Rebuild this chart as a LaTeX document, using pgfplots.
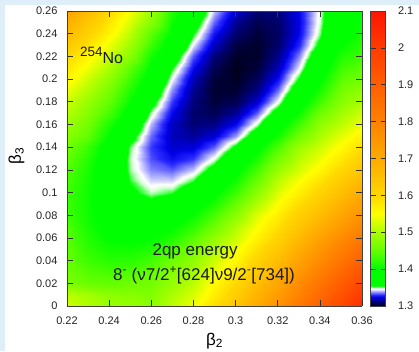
\documentclass[border=0pt]{standalone}
\usepackage{fontspec}
\setmainfont{Liberation Sans}
\usepackage{pgfplots}
\pgfplotsset{compat=1.18}
\pgfplotsset{every tick label/.append style={font=\fontsize{11}{13}\selectfont, text=black!85}}
\definecolor{bgblue}{RGB}{222,239,249}
\begin{document}
\begin{tikzpicture}
\fill[bgblue] (-67pt,-45pt) rectangle (352pt,306pt);
\fill[white] (-62pt,-45pt) rectangle (352pt,301pt);
\begin{axis}[
  anchor=south west,
  width=295pt, height=295pt, scale only axis,
  view={0}{90},
  scaled ticks=false, ztick=\empty,
  xmin=0.22, xmax=0.36, ymin=0, ymax=0.26,
  xtick={0.22,0.24,0.26,0.28,0.3,0.32,0.34,0.36},
  xticklabels={0.22,0.24,0.26,0.28,0.3,0.32,0.34,0.36},
  ytick={0,0.02,0.04,0.06,0.08,0.1,0.12,0.14,0.16,0.18,0.2,0.22,0.24,0.26},
  yticklabels={0,0.02,0.04,0.06,0.08,0.1,0.12,0.14,0.16,0.18,0.2,0.22,0.24,0.26},
  tick align=inside, major tick length=6pt,
  xtick pos=both, ytick pos=both,
  tick style={black!80, line width=0.6pt},
  axis line style={black!75, line width=0.8pt},
  xticklabel style={yshift=-7pt},
  yticklabel style={xshift=-6pt},
  xlabel={β\textsubscript{2}}, ylabel={β\textsubscript{3}},
  every axis x label/.style={at={(axis description cs:0.5,-0.118)}, anchor=center, font=\fontsize{17}{17}\selectfont},
  every axis y label/.style={at={(axis description cs:-0.171,0.51)}, anchor=center, rotate=90, font=\fontsize{17}{17}\selectfont},
  colormap={gp}{
    rgb255(0pt)=(0,0,25) rgb255(13pt)=(0,0,130) rgb255(24pt)=(0,0,230)
    rgb255(30pt)=(40,40,255) rgb255(40pt)=(170,170,255) rgb255(46pt)=(255,255,255)
    rgb255(49pt)=(215,255,215) rgb255(55pt)=(0,255,0) rgb255(100pt)=(0,255,0)
    rgb255(150pt)=(100,255,0) rgb255(200pt)=(170,255,0) rgb255(250pt)=(255,255,0)
    rgb255(300pt)=(255,215,0) rgb255(400pt)=(255,170,0) rgb255(500pt)=(255,130,0)
    rgb255(600pt)=(255,95,0) rgb255(700pt)=(255,60,0) rgb255(800pt)=(255,20,0)},
  point meta min=1.3, point meta max=2.1,
  colorbar,
  colorbar style={at={(parent axis.north east)}, anchor=north west, xshift=0pt, width=15pt,
     scaled ticks=false,
     ytick={1.3,1.4,1.5,1.6,1.7,1.8,1.9,2,2.1},
     yticklabels={1.3,1.4,1.5,1.6,1.7,1.8,1.9,2,2.1},
     tick align=inside, major tick length=5pt,
     ytick pos=both, yticklabel pos=right,
     tick style={black!80, line width=0.6pt},
     axis line style={black!75, line width=0.8pt},
     yticklabel style={xshift=9pt}},
  axis on top,
]
\addplot3[surf, shader=interp, mesh/cols=15] coordinates {
(0.22,0,1.52) (0.23,0,1.505) (0.24,0,1.49) (0.25,0,1.485) (0.26,0,1.48) (0.27,0,1.51) (0.28,0,1.54) (0.29,0,1.59) (0.30,0,1.64) (0.31,0,1.70) (0.32,0,1.76) (0.33,0,1.83) (0.34,0,1.90) (0.35,0,1.97) (0.36,0,2.04)
(0.22,0.01,1.51) (0.23,0.01,1.495) (0.24,0.01,1.48) (0.25,0.01,1.475) (0.26,0.01,1.47) (0.27,0.01,1.50) (0.28,0.01,1.525) (0.29,0.01,1.57) (0.30,0.01,1.62) (0.31,0.01,1.68) (0.32,0.01,1.735) (0.33,0.01,1.80) (0.34,0.01,1.87) (0.35,0.01,1.94) (0.36,0.01,2.005)
(0.22,0.02,1.467) (0.23,0.02,1.453) (0.24,0.02,1.449) (0.25,0.02,1.457) (0.26,0.02,1.46) (0.27,0.02,1.485) (0.28,0.02,1.51) (0.29,0.02,1.555) (0.30,0.02,1.60) (0.31,0.02,1.655) (0.32,0.02,1.71) (0.33,0.02,1.775) (0.34,0.02,1.84) (0.35,0.02,1.905) (0.36,0.02,1.97)
(0.22,0.03,1.458) (0.23,0.03,1.441) (0.24,0.03,1.434) (0.25,0.03,1.439) (0.26,0.03,1.45) (0.27,0.03,1.473) (0.28,0.03,1.495) (0.29,0.03,1.538) (0.30,0.03,1.58) (0.31,0.03,1.633) (0.32,0.03,1.685) (0.33,0.03,1.748) (0.34,0.03,1.81) (0.35,0.03,1.873) (0.36,0.03,1.935)
(0.22,0.04,1.451) (0.23,0.04,1.43) (0.24,0.04,1.42) (0.25,0.04,1.421) (0.26,0.04,1.433) (0.27,0.04,1.457) (0.28,0.04,1.48) (0.29,0.04,1.52) (0.30,0.04,1.56) (0.31,0.04,1.61) (0.32,0.04,1.66) (0.33,0.04,1.72) (0.34,0.04,1.78) (0.35,0.04,1.84) (0.36,0.04,1.90)
(0.22,0.05,1.447) (0.23,0.05,1.422) (0.24,0.05,1.409) (0.25,0.05,1.407) (0.26,0.05,1.415) (0.27,0.05,1.435) (0.28,0.05,1.465) (0.29,0.05,1.503) (0.30,0.05,1.54) (0.31,0.05,1.588) (0.32,0.05,1.635) (0.33,0.05,1.693) (0.34,0.05,1.75) (0.35,0.05,1.808) (0.36,0.05,1.865)
(0.22,0.06,1.443) (0.23,0.06,1.415) (0.24,0.06,1.399) (0.25,0.06,1.393) (0.26,0.06,1.399) (0.27,0.06,1.415) (0.28,0.06,1.443) (0.29,0.06,1.482) (0.30,0.06,1.52) (0.31,0.06,1.565) (0.32,0.06,1.61) (0.33,0.06,1.665) (0.34,0.06,1.72) (0.35,0.06,1.775) (0.36,0.06,1.83)
(0.22,0.07,1.44) (0.23,0.07,1.41) (0.24,0.07,1.39) (0.25,0.07,1.382) (0.26,0.07,1.384) (0.27,0.07,1.397) (0.28,0.07,1.422) (0.29,0.07,1.457) (0.30,0.07,1.504) (0.31,0.07,1.548) (0.32,0.07,1.59) (0.33,0.07,1.64) (0.34,0.07,1.69) (0.35,0.07,1.743) (0.36,0.07,1.795)
(0.22,0.08,1.43) (0.23,0.08,1.407) (0.24,0.08,1.384) (0.25,0.08,1.372) (0.26,0.08,1.371) (0.27,0.08,1.381) (0.28,0.08,1.402) (0.29,0.08,1.434) (0.30,0.08,1.477) (0.31,0.08,1.53) (0.32,0.08,1.57) (0.33,0.08,1.615) (0.34,0.08,1.66) (0.35,0.08,1.71) (0.36,0.08,1.76)
(0.22,0.09,1.43) (0.23,0.09,1.406) (0.24,0.09,1.380) (0.25,0.09,1.364) (0.26,0.09,1.360) (0.27,0.09,1.366) (0.28,0.09,1.384) (0.29,0.09,1.413) (0.30,0.09,1.453) (0.31,0.09,1.504) (0.32,0.09,1.55) (0.33,0.09,1.593) (0.34,0.09,1.635) (0.35,0.09,1.683) (0.36,0.09,1.73)
(0.22,0.10,1.43) (0.23,0.10,1.407) (0.24,0.10,1.377) (0.25,0.10,1.358) (0.26,0.10,1.350) (0.27,0.10,1.354) (0.28,0.10,1.368) (0.29,0.10,1.394) (0.30,0.10,1.430) (0.31,0.10,1.478) (0.32,0.10,1.53) (0.33,0.10,1.57) (0.34,0.10,1.61) (0.35,0.10,1.655) (0.36,0.10,1.70)
(0.22,0.11,1.435) (0.23,0.11,1.409) (0.24,0.11,1.376) (0.25,0.11,1.354) (0.26,0.11,1.343) (0.27,0.11,1.343) (0.28,0.11,1.354) (0.29,0.11,1.376) (0.30,0.11,1.409) (0.31,0.11,1.454) (0.32,0.11,1.51) (0.33,0.11,1.548) (0.34,0.11,1.585) (0.35,0.11,1.628) (0.36,0.11,1.67)
(0.22,0.12,1.44) (0.23,0.12,1.412) (0.24,0.12,1.376) (0.25,0.12,1.351) (0.26,0.12,1.337) (0.27,0.12,1.334) (0.28,0.12,1.342) (0.29,0.12,1.362) (0.30,0.12,1.392) (0.31,0.12,1.434) (0.32,0.12,1.487) (0.33,0.12,1.525) (0.34,0.12,1.56) (0.35,0.12,1.60) (0.36,0.12,1.64)
(0.22,0.13,1.45) (0.23,0.13,1.418) (0.24,0.13,1.378) (0.25,0.13,1.350) (0.26,0.13,1.333) (0.27,0.13,1.326) (0.28,0.13,1.331) (0.29,0.13,1.348) (0.30,0.13,1.375) (0.31,0.13,1.413) (0.32,0.13,1.463) (0.33,0.13,1.508) (0.34,0.13,1.54) (0.35,0.13,1.578) (0.36,0.13,1.615)
(0.22,0.14,1.46) (0.23,0.14,1.428) (0.24,0.14,1.384) (0.25,0.14,1.352) (0.26,0.14,1.331) (0.27,0.14,1.321) (0.28,0.14,1.322) (0.29,0.14,1.334) (0.30,0.14,1.358) (0.31,0.14,1.392) (0.32,0.14,1.438) (0.33,0.14,1.49) (0.34,0.14,1.52) (0.35,0.14,1.555) (0.36,0.14,1.59)
(0.22,0.15,1.475) (0.23,0.15,1.448) (0.24,0.15,1.399) (0.25,0.15,1.362) (0.26,0.15,1.335) (0.27,0.15,1.319) (0.28,0.15,1.315) (0.29,0.15,1.322) (0.30,0.15,1.339) (0.31,0.15,1.368) (0.32,0.15,1.408) (0.33,0.15,1.459) (0.34,0.15,1.50) (0.35,0.15,1.533) (0.36,0.15,1.565)
(0.22,0.16,1.49) (0.23,0.16,1.46) (0.24,0.16,1.415) (0.25,0.16,1.373) (0.26,0.16,1.341) (0.27,0.16,1.320) (0.28,0.16,1.311) (0.29,0.16,1.313) (0.30,0.16,1.325) (0.31,0.16,1.349) (0.32,0.16,1.384) (0.33,0.16,1.430) (0.34,0.16,1.48) (0.35,0.16,1.51) (0.36,0.16,1.54)
(0.22,0.17,1.505) (0.23,0.17,1.473) (0.24,0.17,1.435) (0.25,0.17,1.387) (0.26,0.17,1.350) (0.27,0.17,1.325) (0.28,0.17,1.310) (0.29,0.17,1.307) (0.30,0.17,1.315) (0.31,0.17,1.334) (0.32,0.17,1.364) (0.33,0.17,1.405) (0.34,0.17,1.457) (0.35,0.17,1.493) (0.36,0.17,1.52)
(0.22,0.18,1.52) (0.23,0.18,1.485) (0.24,0.18,1.45) (0.25,0.18,1.402) (0.26,0.18,1.361) (0.27,0.18,1.331) (0.28,0.18,1.312) (0.29,0.18,1.304) (0.30,0.18,1.307) (0.31,0.18,1.322) (0.32,0.18,1.347) (0.33,0.18,1.384) (0.34,0.18,1.432) (0.35,0.18,1.475) (0.36,0.18,1.50)
(0.22,0.19,1.54) (0.23,0.19,1.503) (0.24,0.19,1.465) (0.25,0.19,1.417) (0.26,0.19,1.372) (0.27,0.19,1.338) (0.28,0.19,1.315) (0.29,0.19,1.303) (0.30,0.19,1.303) (0.31,0.19,1.313) (0.32,0.19,1.335) (0.33,0.19,1.368) (0.34,0.19,1.412) (0.35,0.19,1.46) (0.36,0.19,1.48)
(0.22,0.20,1.56) (0.23,0.20,1.52) (0.24,0.20,1.48) (0.25,0.20,1.431) (0.26,0.20,1.383) (0.27,0.20,1.346) (0.28,0.20,1.319) (0.29,0.20,1.304) (0.30,0.20,1.301) (0.31,0.20,1.308) (0.32,0.20,1.326) (0.33,0.20,1.356) (0.34,0.20,1.396) (0.35,0.20,1.445) (0.36,0.20,1.46)
(0.22,0.21,1.58) (0.23,0.21,1.54) (0.24,0.21,1.50) (0.25,0.21,1.447) (0.26,0.21,1.396) (0.27,0.21,1.355) (0.28,0.21,1.326) (0.29,0.21,1.307) (0.30,0.21,1.300) (0.31,0.21,1.304) (0.32,0.21,1.319) (0.33,0.21,1.345) (0.34,0.21,1.382) (0.35,0.21,1.431) (0.36,0.21,1.445)
(0.22,0.22,1.60) (0.23,0.22,1.56) (0.24,0.22,1.52) (0.25,0.22,1.475) (0.26,0.22,1.410) (0.27,0.22,1.367) (0.28,0.22,1.334) (0.29,0.22,1.312) (0.30,0.22,1.302) (0.31,0.22,1.302) (0.32,0.22,1.314) (0.33,0.22,1.337) (0.34,0.22,1.370) (0.35,0.22,1.415) (0.36,0.22,1.43)
(0.22,0.23,1.63) (0.23,0.23,1.585) (0.24,0.23,1.54) (0.25,0.23,1.493) (0.26,0.23,1.430) (0.27,0.23,1.382) (0.28,0.23,1.345) (0.29,0.23,1.320) (0.30,0.23,1.305) (0.31,0.23,1.302) (0.32,0.23,1.310) (0.33,0.23,1.329) (0.34,0.23,1.359) (0.35,0.23,1.400) (0.36,0.23,1.42)
(0.22,0.24,1.66) (0.23,0.24,1.61) (0.24,0.24,1.56) (0.25,0.24,1.51) (0.26,0.24,1.445) (0.27,0.24,1.395) (0.28,0.24,1.355) (0.29,0.24,1.327) (0.30,0.24,1.310) (0.31,0.24,1.304) (0.32,0.24,1.309) (0.33,0.24,1.325) (0.34,0.24,1.352) (0.35,0.24,1.390) (0.36,0.24,1.41)
(0.22,0.25,1.69) (0.23,0.25,1.635) (0.24,0.25,1.58) (0.25,0.25,1.528) (0.26,0.25,1.475) (0.27,0.25,1.407) (0.28,0.25,1.365) (0.29,0.25,1.335) (0.30,0.25,1.315) (0.31,0.25,1.307) (0.32,0.25,1.310) (0.33,0.25,1.324) (0.34,0.25,1.349) (0.35,0.25,1.385) (0.36,0.25,1.405)
(0.22,0.26,1.72) (0.23,0.26,1.66) (0.24,0.26,1.60) (0.25,0.26,1.545) (0.26,0.26,1.49) (0.27,0.26,1.418) (0.28,0.26,1.375) (0.29,0.26,1.342) (0.30,0.26,1.321) (0.31,0.26,1.311) (0.32,0.26,1.312) (0.33,0.26,1.325) (0.34,0.26,1.348) (0.35,0.26,1.382) (0.36,0.26,1.40)
};
\node[anchor=base west, font=\fontsize{16}{16}\selectfont, text=black!90] at (axis cs:0.2245,0.214,1.3) {\raisebox{7pt}{\fontsize{13.5}{13.5}\selectfont 254}No};
\node[anchor=base, font=\fontsize{17}{17}\selectfont, text=black!90] at (axis cs:0.2808,0.0449,1.3) {2qp energy};
\node[anchor=base, font=\fontsize{17}{17}\selectfont, text=black!90] at (axis cs:0.285,0.0229,1.3) {8\textsuperscript{-} (ν7/2\textsuperscript{+}[624]ν9/2\textsuperscript{-}[734])};
\end{axis}
\pgfresetboundingbox
\path[use as bounding box] (-67pt,-45pt) rectangle (352pt,306pt);
\end{tikzpicture}
\end{document}
